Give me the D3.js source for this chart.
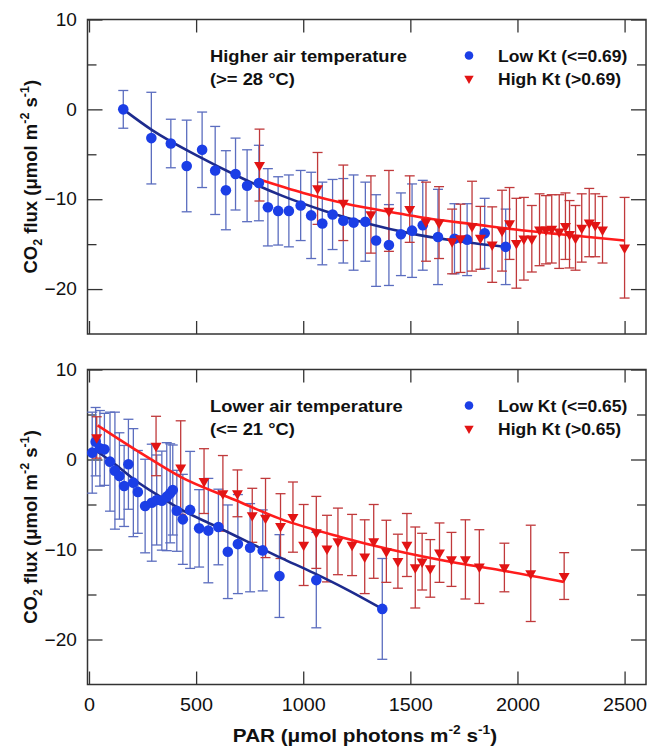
<!DOCTYPE html>
<html><head><meta charset="utf-8">
<script src="https://cdn.jsdelivr.net/npm/d3@7"></script>
<style>body{margin:0;background:#fff}svg{display:block}text{font-family:"Liberation Sans",Arial,sans-serif}</style>
</head><body><svg id="c" width="647" height="747"></svg>
<script>
// ---------- DATA ----------
const xTicks = [0, 500, 1000, 1500, 2000, 2500];
const yMajor = [-20, -10, 0, 10];
const yMinor = [-15, -5, 5];

// Top panel: higher air temperature (>= 28 °C)
const topLowPAR  = [160,291,382,456,528,589,639,684,738,793,835,883,933,988,1037,1089,1137,1187,1235,1290,1340,1400,1456,1508,1558,1629,1706,1765,1847,1945];
const topLowFlux = [0.0,-3.2,-3.8,-6.3,-4.5,-6.8,-9.0,-7.2,-8.5,-8.2,-10.9,-11.3,-11.3,-10.7,-11.8,-12.7,-11.7,-12.4,-12.6,-12.5,-14.6,-15.1,-13.9,-13.5,-12.9,-14.2,-14.4,-14.5,-13.8,-15.3];
const topLowErr  = [2.1,5.1,2.7,5.1,4.2,4.9,4.4,4.0,4.0,4.2,4.3,3.8,4.0,3.9,4.8,4.6,3.9,4.7,5.3,4.4,5.1,4.5,4.6,5.2,5.0,5.3,3.9,4.0,3.9,4.2];
const topHighPAR  = [796,1067,1187,1316,1400,1497,1573,1634,1695,1734,1788,1827,1882,1928,1963,1995,2030,2067,2103,2133,2160,2195,2224,2243,2271,2300,2335,2363,2397,2500];
const topHighFlux = [-6.2,-8.8,-10.4,-11.7,-11.3,-11.1,-12.5,-12.6,-14.7,-14.35,-13.0,-14.3,-15.05,-13.5,-12.7,-14.9,-14.4,-14.4,-13.4,-13.4,-13.3,-13.6,-13.0,-13.9,-14.3,-13.2,-12.6,-12.9,-13.4,-15.4];
const topHighErr  = [4.0,4.0,4.2,4.3,4.5,3.7,4.4,4.0,3.6,3.8,5.0,3.5,4.2,4.5,4.0,5.0,4.6,3.7,4.0,3.8,3.8,4.1,3.7,3.75,3.6,3.8,3.8,3.5,3.7,5.6];
const topLowFitPAR  = [160,300,500,700,900,1100,1300,1500,1700,1940];
const topLowFitFlux = [0,-2.4,-5.1,-7.5,-9.6,-11.3,-12.7,-13.8,-14.6,-15.3];
const topHighFitPAR  = [796,1000,1200,1400,1600,1800,2000,2200,2500];
const topHighFitFlux = [-7.8,-9.3,-10.5,-11.4,-12.2,-12.8,-13.4,-13.9,-14.6];

// Bottom panel: lower air temperature (<= 21 °C)
const botLowPAR  = [15,31,51,72,98,121,142,164,184,207,228,262,293,316,340,363,379,391,410,438,472,514,557,604,648,695,752,811,889,1061,1369];
const botLowFlux = [0.76,1.98,1.24,1.13,-0.24,-1.24,-1.83,-2.94,-0.53,-2.57,-3.6,-5.17,-4.8,-4.5,-4.57,-4.13,-3.76,-3.39,-5.7,-6.65,-5.6,-7.65,-7.9,-7.5,-10.25,-9.4,-9.8,-10.1,-12.95,-13.4,-16.6];
const botLowErr  = [4.5,3.8,4.2,4.0,5.5,6.5,4.8,4.5,5.0,6.0,4.6,5.2,6.5,5.0,5.5,6.0,5.5,5.0,4.5,5.0,6.5,4.3,5.8,4.2,5.2,5.5,4.9,4.5,4.6,5.3,5.6];
const botHighPAR  = [36,313,428,537,625,693,762,824,894,952,1002,1061,1111,1162,1228,1287,1329,1388,1442,1484,1523,1555,1593,1636,1692,1757,1822,1939,2062,2218];
const botHighFlux = [2.45,1.5,-0.9,-2.4,-3.76,-3.76,-6.2,-6.5,-7.4,-6.4,-9.5,-8.1,-9.9,-9.1,-9.5,-10.8,-9.1,-10.2,-11.3,-9.5,-12.0,-11.35,-12.1,-10.35,-11.1,-11.1,-11.9,-12.0,-12.65,-12.95];
const botHighErr  = [2.3,3.3,5.2,3.6,4.2,2.6,3.0,4.4,3.6,3.9,4.5,4.0,3.7,3.7,3.4,4.1,4.1,3.45,3.0,3.5,4.5,3.15,3.2,3.3,3.0,4.4,4.1,2.7,5.35,2.6];
const botLowFitPAR  = [20,120,215,330,433,581,737,893,1048,1200,1369];
const botLowFitFlux = [1.2,-0.5,-2.3,-4.1,-5.6,-7.3,-9.1,-10.9,-12.6,-14.4,-16.6];
const botHighFitPAR  = [40,250,425,682,893,1173,1407,1718,1920,2217];
const botHighFitFlux = [3.8,0.6,-1.9,-4.5,-6.6,-8.6,-10.0,-11.5,-12.3,-13.6];

const panels = [
  {top:19.5, bottom:334, title1:"Higher air temperature", title2:"(>= 28 °C)",
   lowLabel:"Low Kt (<=0.69)", highLabel:"High Kt (>0.69)",
   low:{par:topLowPAR, flux:topLowFlux, err:topLowErr}, high:{par:topHighPAR, flux:topHighFlux, err:topHighErr},
   lowFit:{par:topLowFitPAR, flux:topLowFitFlux}, highFit:{par:topHighFitPAR, flux:topHighFitFlux}, xLabels:false},
  {top:369.5, bottom:684.5, title1:"Lower air temperature", title2:"(<= 21 °C)",
   lowLabel:"Low Kt (<=0.65)", highLabel:"High Kt (>0.65)",
   low:{par:botLowPAR, flux:botLowFlux, err:botLowErr}, high:{par:botHighPAR, flux:botHighFlux, err:botHighErr},
   lowFit:{par:botLowFitPAR, flux:botLowFitFlux}, highFit:{par:botHighFitPAR, flux:botHighFitFlux}, xLabels:true}
];

// ---------- STYLE ----------
const C = {blue:"#1b3ee6", blueBar:"#5b6dbf", blueFit:"#1d2b8e", red:"#e21414", redBar:"#c0393b", redFit:"#ff1c1c", frame:"#333"};
const left = 87.5, right = 646;
const svg = d3.select("#c");
const x = d3.scaleLinear().domain([-7, 2600]).range([left, right]);
const tri = d3.symbol().type(d3.symbolTriangle).size(52);

function stretchedText(parent, tx, ty, s, anchor){
  return parent.append("text").attr("text-anchor", anchor || "start")
    .attr("transform", `translate(${tx},${ty}) scale(${s},1)`);
}

panels.forEach((p, pi) => {
  const y = d3.scaleLinear().domain([-25, 10]).range([p.bottom, p.top]);
  const g = svg.append("g");
  const h = p.bottom - p.top;

  function styleAxis(sel){
    sel.select(".domain").remove();
    sel.selectAll("line").attr("stroke", C.frame).attr("stroke-width", 1.3);
    sel.selectAll("text").attr("font-size", 18).attr("fill", "#111");
  }
  // y axes
  g.append("g").attr("transform", `translate(${left},0)`)
    .call(d3.axisLeft(y).tickValues(yMajor).tickSizeInner(-15).tickSizeOuter(0).tickPadding(10).tickFormat(d3.format("d")))
    .call(styleAxis)
    .selectAll("text").attr("transform", "scale(1.06,1)");
  g.append("g").attr("transform", `translate(${left},0)`)
    .call(d3.axisLeft(y).tickValues(yMinor).tickSizeInner(-9).tickSizeOuter(0).tickFormat(""))
    .call(styleAxis);
  g.append("g").attr("transform", `translate(${right},0)`)
    .call(d3.axisRight(y).tickValues(yMajor).tickSizeInner(-15).tickSizeOuter(0).tickFormat(""))
    .call(styleAxis);
  g.append("g").attr("transform", `translate(${right},0)`)
    .call(d3.axisRight(y).tickValues(yMinor).tickSizeInner(-9).tickSizeOuter(0).tickFormat(""))
    .call(styleAxis);
  // x axes
  g.append("g").attr("transform", `translate(0,${p.top})`)
    .call(d3.axisTop(x).tickValues(xTicks).tickSizeInner(-13).tickSizeOuter(0).tickFormat(""))
    .call(styleAxis);
  g.append("g").attr("transform", `translate(0,${p.bottom})`)
    .call(d3.axisBottom(x).tickValues(xTicks).tickSizeInner(-13).tickSizeOuter(0).tickPadding(14)
      .tickFormat(p.xLabels ? d3.format("d") : ""))
    .call(styleAxis)
    .selectAll("text").attr("transform", "scale(1.1,1)");

  // frame
  g.append("rect").attr("x", left).attr("y", p.top).attr("width", right - left).attr("height", h)
    .attr("fill", "none").attr("stroke", C.frame).attr("stroke-width", 1.5);

  const plot = g.append("g");
  function errBars(s, color){
    const d = s.par.map((v,i)=>({x:v, y:s.flux[i], e:s.err[i]}));
    const eg = plot.append("g").attr("stroke", color).attr("stroke-width", 1.3).attr("fill","none");
    const one = eg.selectAll("g").data(d).join("g");
    one.append("line").attr("x1", d=>x(d.x)).attr("x2", d=>x(d.x)).attr("y1", d=>y(d.y+d.e)).attr("y2", d=>y(d.y-d.e));
    one.append("line").attr("x1", d=>x(d.x)-5).attr("x2", d=>x(d.x)+5).attr("y1", d=>y(d.y+d.e)).attr("y2", d=>y(d.y+d.e));
    one.append("line").attr("x1", d=>x(d.x)-5).attr("x2", d=>x(d.x)+5).attr("y1", d=>y(d.y-d.e)).attr("y2", d=>y(d.y-d.e));
    return d;
  }
  const lowD = errBars(p.low, C.blueBar);
  const highD = errBars(p.high, C.redBar);

  const line = d3.line().x(d=>x(d[0])).y(d=>y(d[1])).curve(d3.curveMonotoneX);
  plot.append("path").datum(p.lowFit.par.map((v,i)=>[v,p.lowFit.flux[i]]))
    .attr("d", line).attr("fill","none").attr("stroke", C.blueFit).attr("stroke-width", 2.6);
  plot.append("path").datum(p.highFit.par.map((v,i)=>[v,p.highFit.flux[i]]))
    .attr("d", line).attr("fill","none").attr("stroke", C.redFit).attr("stroke-width", 2.6);

  plot.append("g").selectAll("circle").data(lowD).join("circle")
    .attr("cx", d=>x(d.x)).attr("cy", d=>y(d.y)).attr("r", 5.3).attr("fill", C.blue);
  plot.append("g").selectAll("path").data(highD).join("path")
    .attr("d", tri).attr("transform", d=>`translate(${x(d.x)},${y(d.y)}) rotate(180)`).attr("fill", C.red);

  // titles
  const tg = g.append("g").attr("font-weight","bold").attr("font-size", 17).attr("fill","#111");
  stretchedText(tg, 210, p.top + 42, 1.08).text(p.title1);
  stretchedText(tg, 210, p.top + 65, 1.08).text(p.title2);
  // legend
  stretchedText(tg, 498, p.top + 42, 1.03).text(p.lowLabel);
  stretchedText(tg, 498, p.top + 65, 1.03).text(p.highLabel);
  g.append("circle").attr("cx", 469).attr("cy", p.top + 36).attr("r", 4.3).attr("fill", C.blue);
  g.append("path").attr("d", d3.symbol().type(d3.symbolTriangle).size(38))
    .attr("transform", `translate(469,${p.top + 59}) rotate(180)`).attr("fill", C.red);

  // y title
  const yt = svg.append("text").attr("font-weight","bold").attr("font-size", 18.5).attr("fill","#111")
    .attr("text-anchor","middle")
    .attr("transform", `translate(37,${(p.top + p.bottom)/2}) rotate(-90)`);
  yt.append("tspan").text("CO");
  yt.append("tspan").attr("font-size", 12.5).attr("dy", 5).text("2");
  yt.append("tspan").attr("dy", -5).text(" flux (\u03bcmol m");
  yt.append("tspan").attr("font-size", 12.5).attr("dy", -8).text("-2");
  yt.append("tspan").attr("dy", 8).text(" s");
  yt.append("tspan").attr("font-size", 12.5).attr("dy", -8).text("-1");
  yt.append("tspan").attr("dy", 8).text(")");
});

// x title
const xt = stretchedText(svg, 365, 742, 1.15, "middle").attr("font-weight","bold").attr("font-size", 18).attr("fill","#111");
xt.append("tspan").text("PAR (\u03bcmol photons m");
xt.append("tspan").attr("font-size", 12).attr("dy", -8).text("-2");
xt.append("tspan").attr("dy", 8).text(" s");
xt.append("tspan").attr("font-size", 12).attr("dy", -8).text("-1");
xt.append("tspan").attr("dy", 8).text(")");
</script></body></html>
